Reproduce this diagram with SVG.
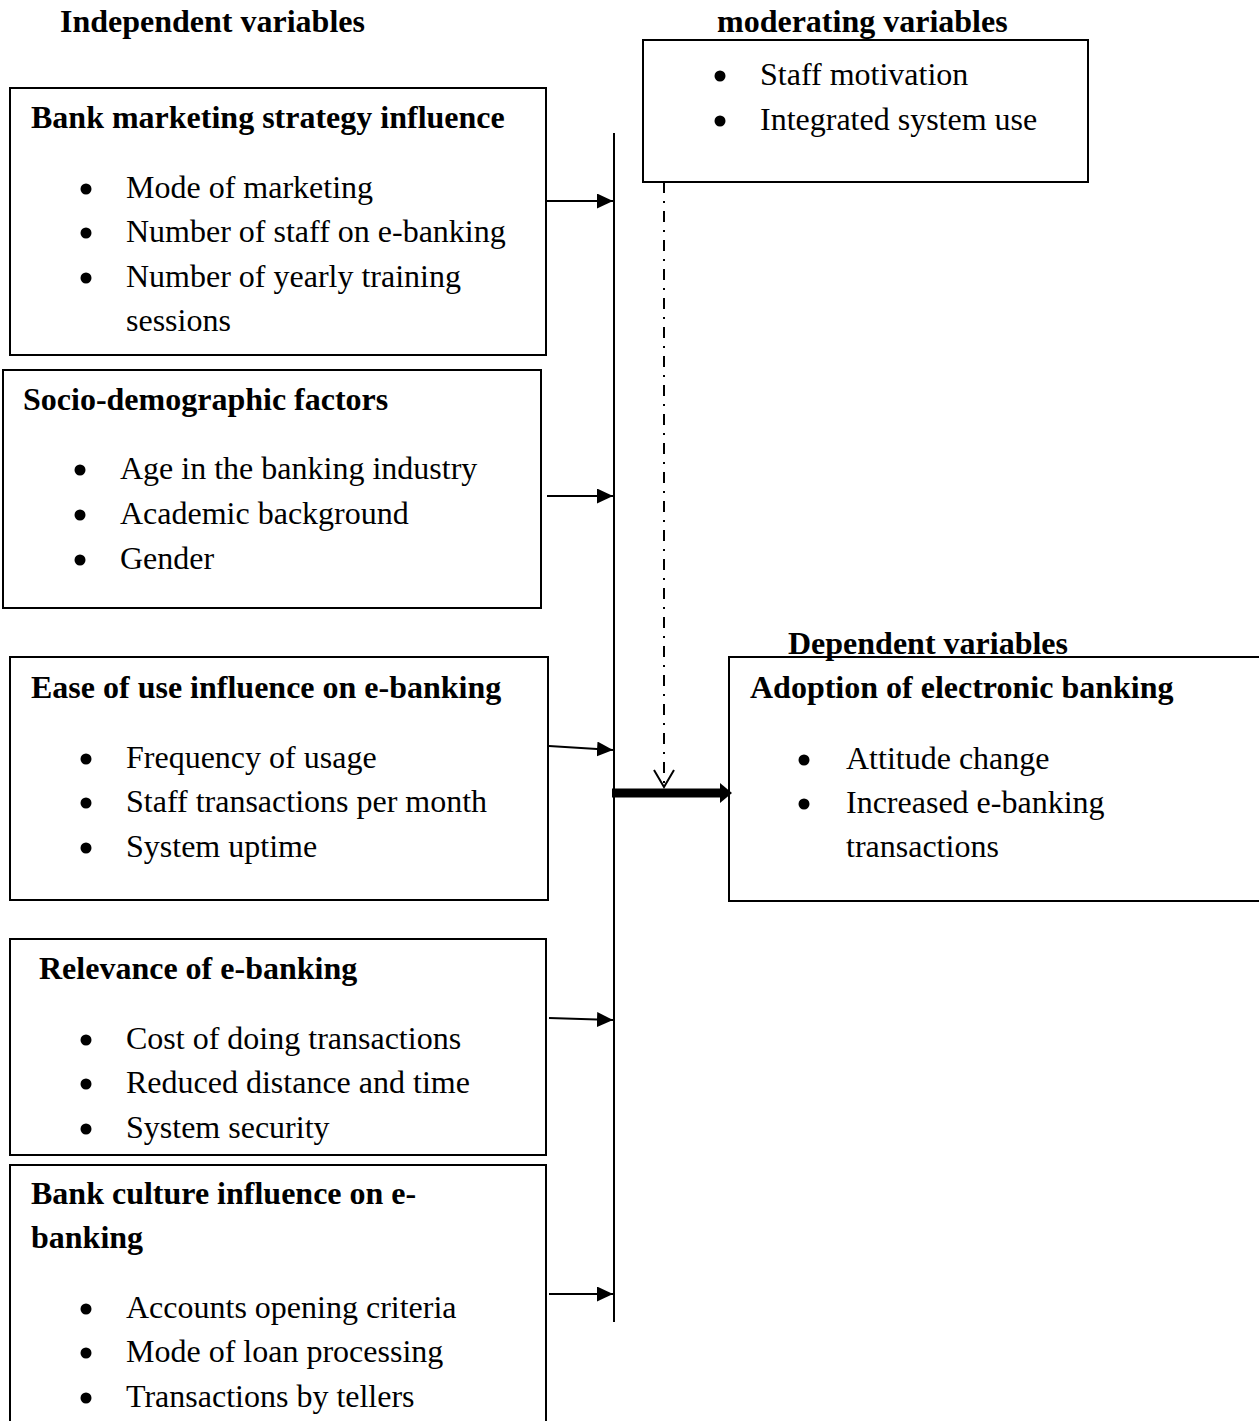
<svg xmlns="http://www.w3.org/2000/svg" width="1259" height="1421" viewBox="0 0 1259 1421">
<defs>
<style>
.t{font-family:"Liberation Serif","Times New Roman",serif;font-size:32px;fill:#000}
.b{font-weight:bold}
.box{fill:none;stroke:#000;stroke-width:2}
.ln{fill:none;stroke:#000;stroke-width:2}
.dot{fill:#000}
</style>
<marker id="ah" markerWidth="16" markerHeight="15" refX="16" refY="7.5" orient="auto" markerUnits="userSpaceOnUse">
<path d="M0,0 L16,7.5 L0,15 Z" fill="#000"/>
</marker>
<marker id="ahb" markerWidth="12" markerHeight="20" refX="1" refY="10" orient="auto" markerUnits="userSpaceOnUse">
<path d="M0,0 L12,10 L0,20 Z" fill="#000"/>
</marker>
</defs>
<rect width="1259" height="1421" fill="#fff"/>

<g id="headings">
<text class="t b" x="60" y="32">Independent variables</text>
<text class="t b" x="717" y="32">moderating variables</text>
<text class="t b" x="788" y="654">Dependent variables</text>
</g>

<g id="moderating">
<rect class="box" x="643" y="40" width="445" height="142"/>
<circle class="dot" cx="720" cy="76" r="5.5"/>
<text class="t" x="760" y="85">Staff motivation</text>
<circle class="dot" cx="720" cy="121" r="5.5"/>
<text class="t" x="760" y="130">Integrated system use</text>
</g>

<g id="marketing">
<rect class="box" x="10" y="88" width="536" height="267"/>
<text class="t b" x="31" y="128">Bank marketing strategy influence</text>
<circle class="dot" cx="86" cy="189" r="5.5"/>
<text class="t" x="126" y="198">Mode of marketing</text>
<circle class="dot" cx="86" cy="233" r="5.5"/>
<text class="t" x="126" y="242">Number of staff on e-banking</text>
<circle class="dot" cx="86" cy="278" r="5.5"/>
<text class="t" x="126" y="287">Number of yearly training</text>
<text class="t" x="126" y="331">sessions</text>
</g>

<g id="socio">
<rect class="box" x="3" y="370" width="538" height="238"/>
<text class="t b" x="23" y="410">Socio-demographic factors</text>
<circle class="dot" cx="80" cy="470" r="5.5"/>
<text class="t" x="120" y="479">Age in the banking industry</text>
<circle class="dot" cx="80" cy="515" r="5.5"/>
<text class="t" x="120" y="524">Academic background</text>
<circle class="dot" cx="80" cy="560" r="5.5"/>
<text class="t" x="120" y="569">Gender</text>
</g>

<g id="ease">
<rect class="box" x="10" y="657" width="538" height="243"/>
<text class="t b" x="31" y="698">Ease of use influence on e-banking</text>
<circle class="dot" cx="86" cy="759" r="5.5"/>
<text class="t" x="126" y="768">Frequency of usage</text>
<circle class="dot" cx="86" cy="803" r="5.5"/>
<text class="t" x="126" y="812">Staff transactions per month</text>
<circle class="dot" cx="86" cy="848" r="5.5"/>
<text class="t" x="126" y="857">System uptime</text>
</g>

<g id="relevance">
<rect class="box" x="10" y="939" width="536" height="216"/>
<text class="t b" x="39" y="979">Relevance of e-banking</text>
<circle class="dot" cx="86" cy="1040" r="5.5"/>
<text class="t" x="126" y="1049">Cost of doing transactions</text>
<circle class="dot" cx="86" cy="1084" r="5.5"/>
<text class="t" x="126" y="1093">Reduced distance and time</text>
<circle class="dot" cx="86" cy="1129" r="5.5"/>
<text class="t" x="126" y="1138">System security</text>
</g>

<g id="culture">
<rect class="box" x="10" y="1165" width="536" height="270"/>
<text class="t b" x="31" y="1204">Bank culture influence on e-</text>
<text class="t b" x="31" y="1248">banking</text>
<circle class="dot" cx="86" cy="1309" r="5.5"/>
<text class="t" x="126" y="1318">Accounts opening criteria</text>
<circle class="dot" cx="86" cy="1353" r="5.5"/>
<text class="t" x="126" y="1362">Mode of loan processing</text>
<circle class="dot" cx="86" cy="1398" r="5.5"/>
<text class="t" x="126" y="1407">Transactions by tellers</text>
</g>

<g id="dependent">
<rect class="box" x="729" y="657" width="540" height="244"/>
<text class="t b" x="750" y="698">Adoption of electronic banking</text>
<circle class="dot" cx="804" cy="760" r="5.5"/>
<text class="t" x="846" y="769">Attitude change</text>
<circle class="dot" cx="804" cy="804" r="5.5"/>
<text class="t" x="846" y="813">Increased e-banking</text>
<text class="t" x="846" y="857">transactions</text>
</g>

<g id="connectors">
<line class="ln" x1="614" y1="133" x2="614" y2="1322"/>
<line class="ln" x1="546" y1="201" x2="613" y2="201" marker-end="url(#ah)"/>
<line class="ln" x1="547" y1="496" x2="613" y2="496" marker-end="url(#ah)"/>
<line class="ln" x1="549" y1="746" x2="613" y2="750" marker-end="url(#ah)"/>
<line class="ln" x1="549" y1="1018" x2="613" y2="1020" marker-end="url(#ah)"/>
<line class="ln" x1="549" y1="1294" x2="613" y2="1294" marker-end="url(#ah)"/>
<line x1="612" y1="793" x2="721" y2="793" stroke="#000" stroke-width="9" marker-end="url(#ahb)"/>
<line x1="664" y1="182" x2="664" y2="786" stroke="#000" stroke-width="2" stroke-dasharray="11,8,2,8"/>
<polyline points="654,770 664,787 674,770" fill="none" stroke="#000" stroke-width="2"/>
</g>
</svg>
